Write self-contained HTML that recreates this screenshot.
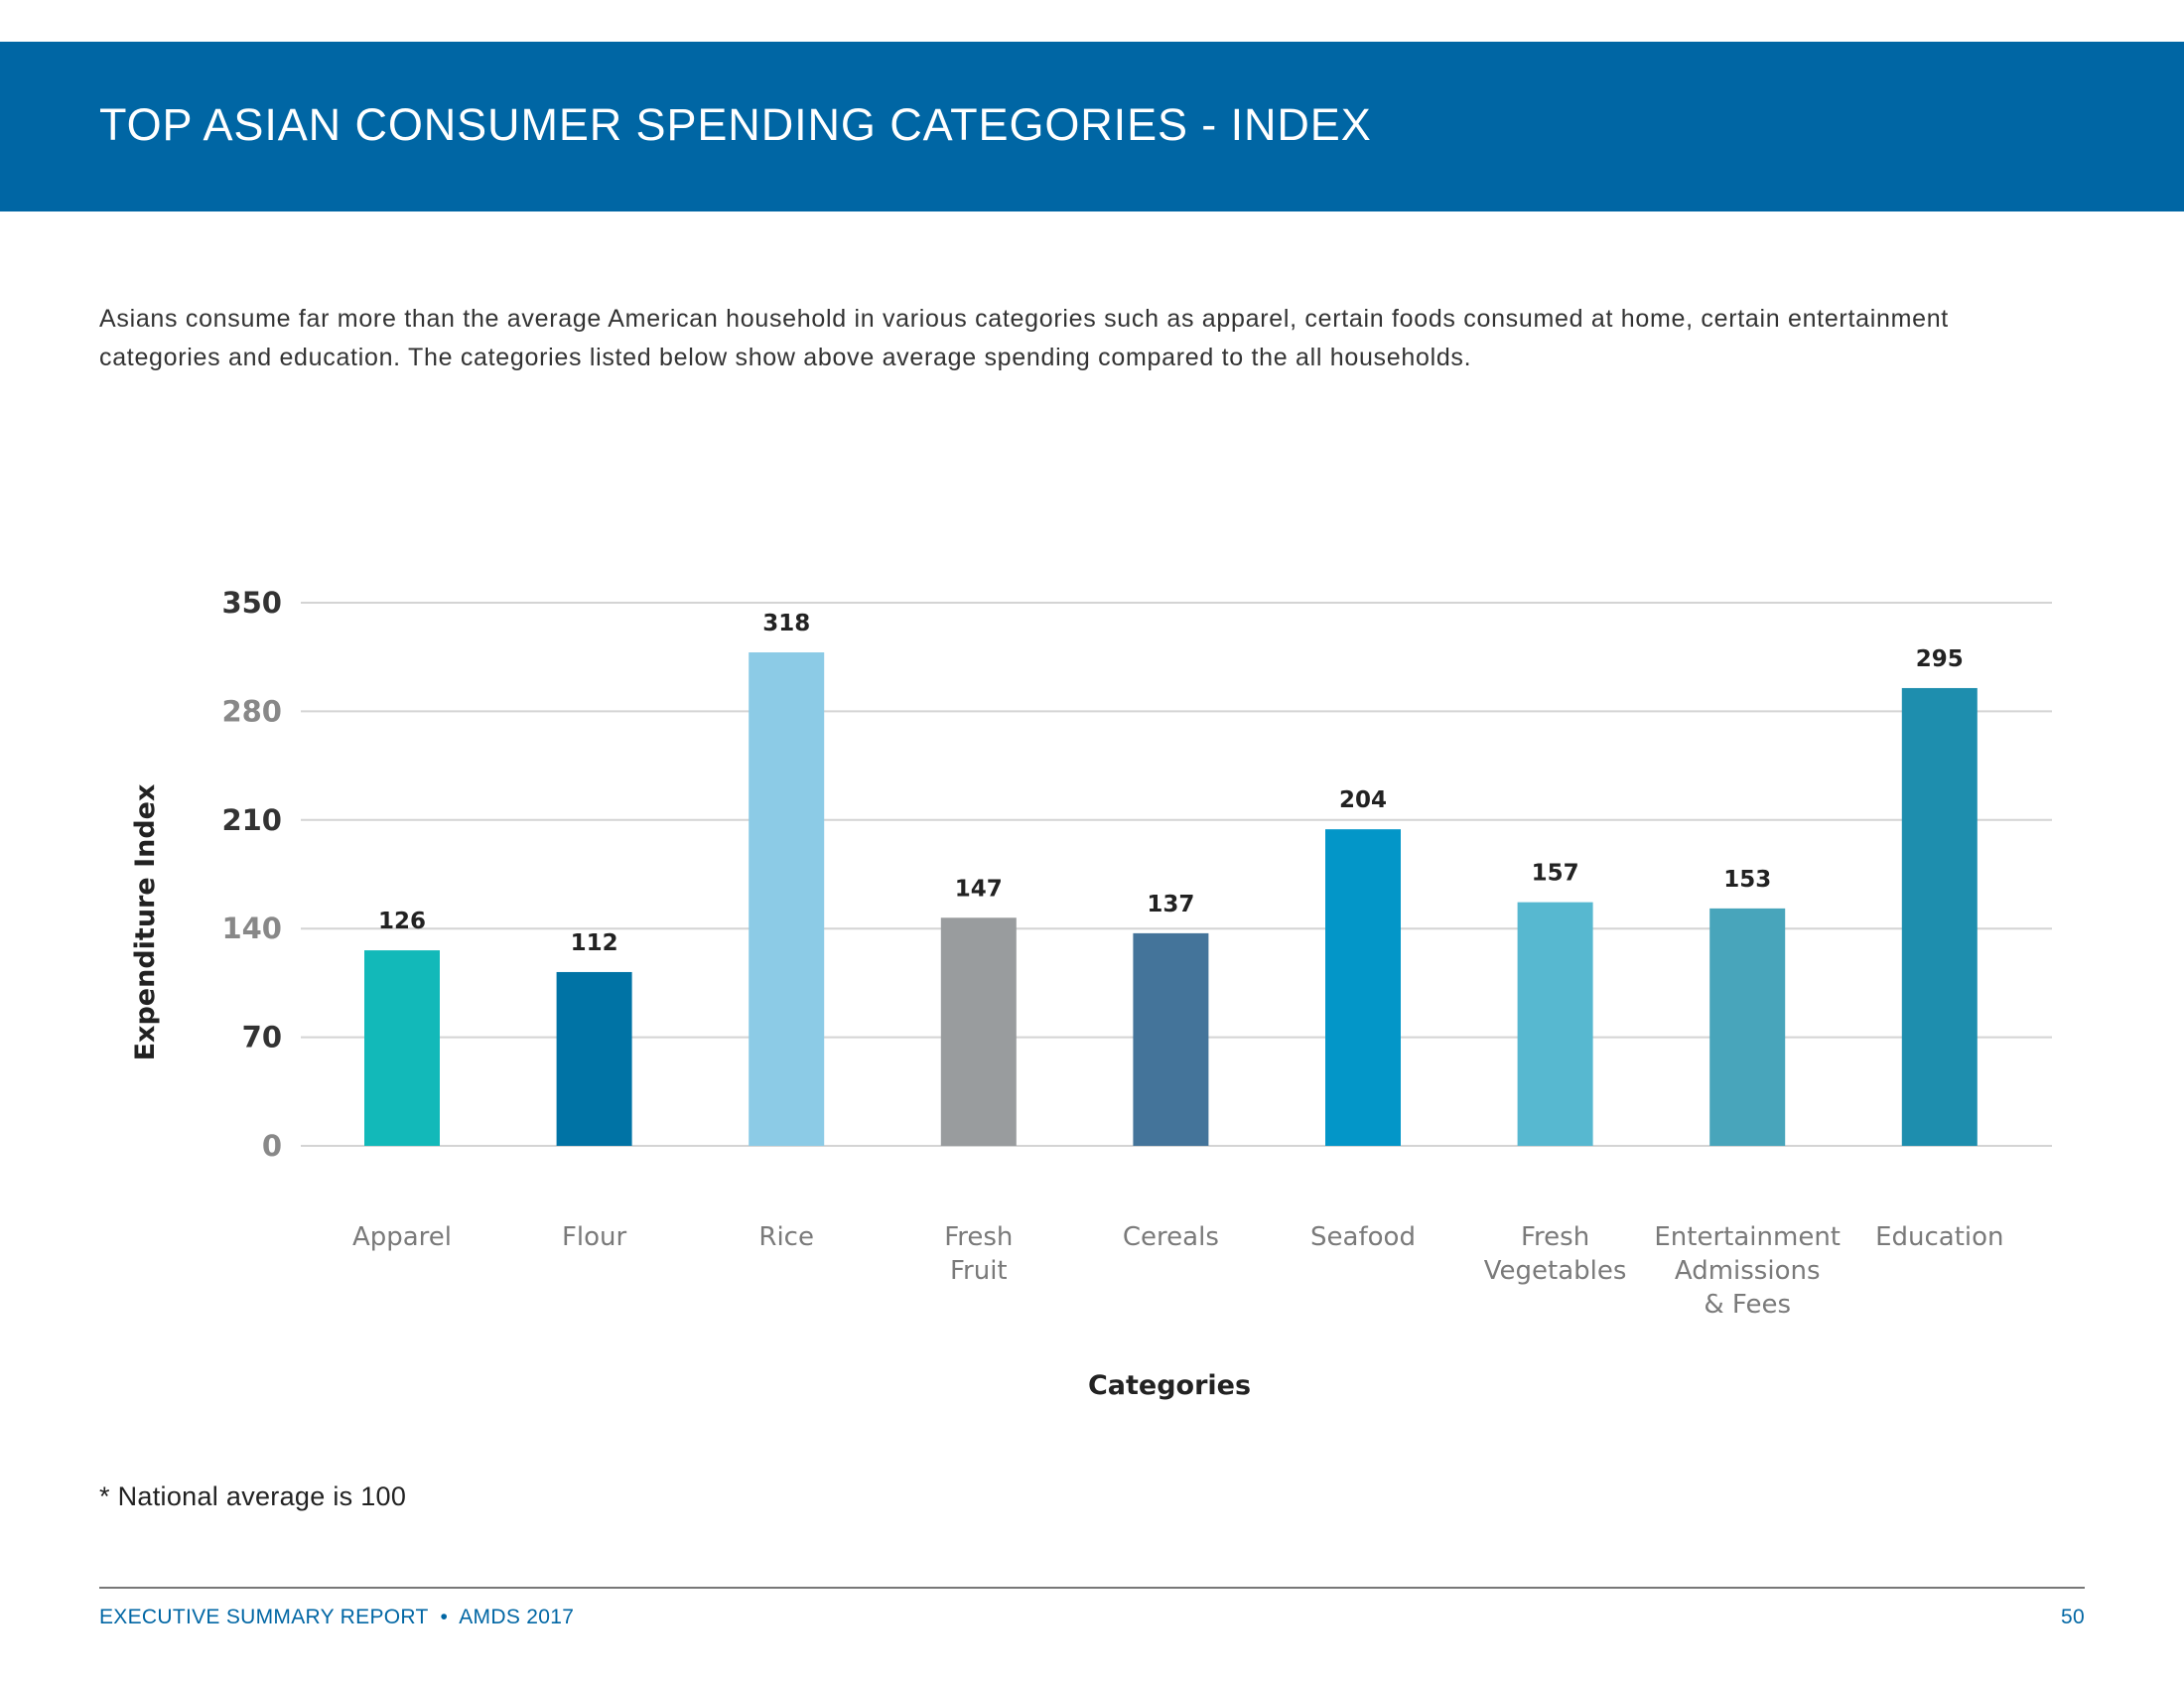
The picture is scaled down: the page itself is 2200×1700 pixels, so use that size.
<!DOCTYPE html>
<html><head><meta charset="utf-8"><style>
body{margin:0;width:2200px;height:1700px;background:#fff;font-family:"Liberation Sans",sans-serif;position:relative;overflow:hidden}
.hdr{position:absolute;left:0;top:42px;width:2200px;height:171px;background:#0066a4}
.title{position:absolute;left:100px;top:100px;color:#fff;font-size:45px;letter-spacing:0.9px}
.para{position:absolute;left:100px;top:302px;width:2080px;font-size:25px;line-height:39px;color:#333;letter-spacing:0.7px;white-space:nowrap}
.foot{position:absolute;left:100px;top:1492px;font-size:27px;color:#222;letter-spacing:0.3px}
.rule{position:absolute;left:100px;top:1598px;width:2000px;height:2px;background:#777}
.ft{position:absolute;top:1617px;font-size:21px;color:#0066a4;letter-spacing:0.3px}
</style></head><body>
<div class="hdr"></div>
<div class="title">TOP ASIAN CONSUMER SPENDING CATEGORIES - INDEX</div>
<div class="para">Asians consume far more than the average American household in various categories such as apparel, certain foods consumed at home, certain entertainment<br>categories and education. The categories listed below show above average spending compared to the all households.</div>
<svg id="chart" width="2200" height="1700" style="position:absolute;left:0;top:0"></svg>
<div class="foot">* National average is 100</div>
<div class="rule"></div>
<div class="ft" style="left:100px">EXECUTIVE SUMMARY REPORT &nbsp;•&nbsp; AMDS 2017</div>
<div class="ft" style="left:2076px">50</div>
<script>
const categories=[["Apparel"],["Flour"],["Rice"],["Fresh","Fruit"],["Cereals"],["Seafood"],["Fresh","Vegetables"],["Entertainment","Admissions","& Fees"],["Education"]];
const values=[126,112,318,147,137,204,157,153,295];
const colors=["#12b9b9","#0073a5","#8ccbe6","#999c9e","#44749a","#0396c8","#57b8d0","#48a5bb","#1e8eae"];
const ticks=[0,70,140,210,280,350];
const NS="http://www.w3.org/2000/svg",svg=document.getElementById("chart");
const y0=1154,y350=607,xL=303,xR=2067,x0=405,step=193.6,bw=76;
const y=v=>y0-(y0-y350)*v/350, x=i=>x0+i*step;
function mk(t,a,txt){const e=document.createElementNS(NS,t);for(const k in a)e.setAttribute(k,a[k]);if(txt!=null)e.textContent=txt;svg.appendChild(e);return e;}
ticks.forEach((t,i)=>{
  const g=mk("line",{x1:xL,x2:xR,y1:y(t),y2:y(t),stroke:"#d4d4d4","stroke-width":2});
  
  
  const l=mk("text",{x:284,y:y(t)+10,"text-anchor":"end","font-size":29,"font-weight":"bold",fill:i%2?"#333":"#888","font-family":"DejaVu Sans"},t);
  
  
});
values.forEach((v,i)=>{
  const r=mk("rect",{x:x(i)-bw/2,y:y(v),width:bw,height:y0-y(v),fill:colors[i]});
  
  
  const t=mk("text",{x:x(i),y:y(v)-22,"text-anchor":"middle","font-size":23,"font-weight":"bold",fill:"#222","font-family":"DejaVu Sans"},v);
  
  
  categories[i].forEach((ln,j)=>{
    const c=mk("text",{x:x(i),y:1254+j*34,"text-anchor":"middle","font-size":26,fill:"#7a7a7a","font-family":"DejaVu Sans"},ln);
    
    
  });
});
const xt=mk("text",{x:1178,y:1404,"text-anchor":"middle","font-size":27,"font-weight":"bold",fill:"#222","font-family":"DejaVu Sans"},"Categories");


const yt=mk("text",{x:0,y:0,transform:"translate(155,929) rotate(-90)","text-anchor":"middle","font-size":27,"font-weight":"bold",fill:"#222","font-family":"DejaVu Sans"},"Expenditure Index");


</script>
</body></html>
